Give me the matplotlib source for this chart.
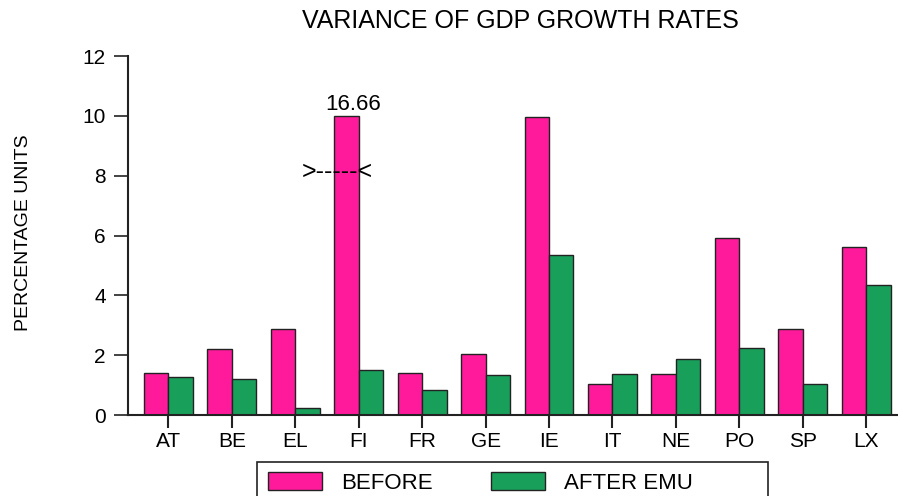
import matplotlib
matplotlib.use("Agg")
import matplotlib.pyplot as plt
from matplotlib.patches import Rectangle
import numpy as np

countries = ["AT", "BE", "EL", "FI", "FR", "GE", "IE", "IT", "NE", "PO", "SP", "LX"]
before = [1.39, 2.20, 2.89, 16.66, 1.40, 2.03, 9.96, 1.03, 1.36, 5.91, 2.89, 5.60]
after_emu = [1.26, 1.20, 0.22, 1.50, 0.83, 1.34, 5.34, 1.37, 1.87, 2.23, 1.03, 4.34]
display_cap = 10.0
y_ticks = [0, 2, 4, 6, 8, 10, 12]

pink = "#FF1A9C"
green = "#18A05A"
edge = "#222222"

plt.rcParams['font.family'] = ['Liberation Sans', 'DejaVu Sans']

fig = plt.figure(figsize=(8.98, 4.96), dpi=100)
ax = fig.add_axes([0.1425, 0.1633, 0.8575, 0.7237])

x = np.arange(len(countries))
w = 0.385
b_disp = np.minimum(np.array(before), display_cap)
ax.bar(x - w/2, b_disp, width=w, color=pink, edgecolor=edge, linewidth=1.0, label="BEFORE")
ax.bar(x + w/2, after_emu, width=w, color=green, edgecolor=edge, linewidth=1.0, label="AFTER EMU")

# annotation for truncated bar
i_fi = countries.index("FI")
ax.text(i_fi - 0.09, 10.37, f"{before[i_fi]:.2f}", ha="center", va="center", fontsize=16)
ax.text(i_fi - 0.33, 8.12, ">-----<", ha="center", va="center", fontsize=18)

ax.set_xlim(-0.636, 11.5)
ax.set_ylim(0, 12)
ax.set_xticks(x)
ax.set_xticklabels(countries, fontsize=15)
ax.set_yticks(y_ticks)
ax.set_yticklabels([str(v) for v in y_ticks], fontsize=15)

for s in ["top", "right"]:
    ax.spines[s].set_visible(False)
for s in ["left", "bottom"]:
    ax.spines[s].set_linewidth(1.5)
    ax.spines[s].set_color("#222222")
ax.tick_params(axis="y", direction="out", length=10, width=1.2, pad=6, colors="#222222", labelcolor="black")
ax.tick_params(axis="x", direction="out", length=9, width=1.5, pad=3, colors="#222222", labelcolor="black")

fig.text(0.579, 0.958, "VARIANCE OF GDP GROWTH RATES", ha="center", va="center", fontsize=18)
fig.text(0.026, 0.53, "PERCENTAGE UNITS", rotation=90, ha="center", va="center", fontsize=14)

# legend frame (extends past the bottom edge as in the reference)
fig.add_artist(Rectangle((257/898, -0.05), 511/898, 0.05 + 1 - 462/496,
                         transform=fig.transFigure, facecolor="none",
                         edgecolor="#222222", linewidth=1.2))
leg = fig.legend(loc="upper left", bbox_to_anchor=(268/898, 1 - 472/496), ncol=2, fontsize=16,
                 frameon=False, handlelength=2.45, handleheight=0.9,
                 columnspacing=2.6, handletextpad=0.85, borderpad=0, borderaxespad=0)

fig.savefig("out.png", dpi=100)
